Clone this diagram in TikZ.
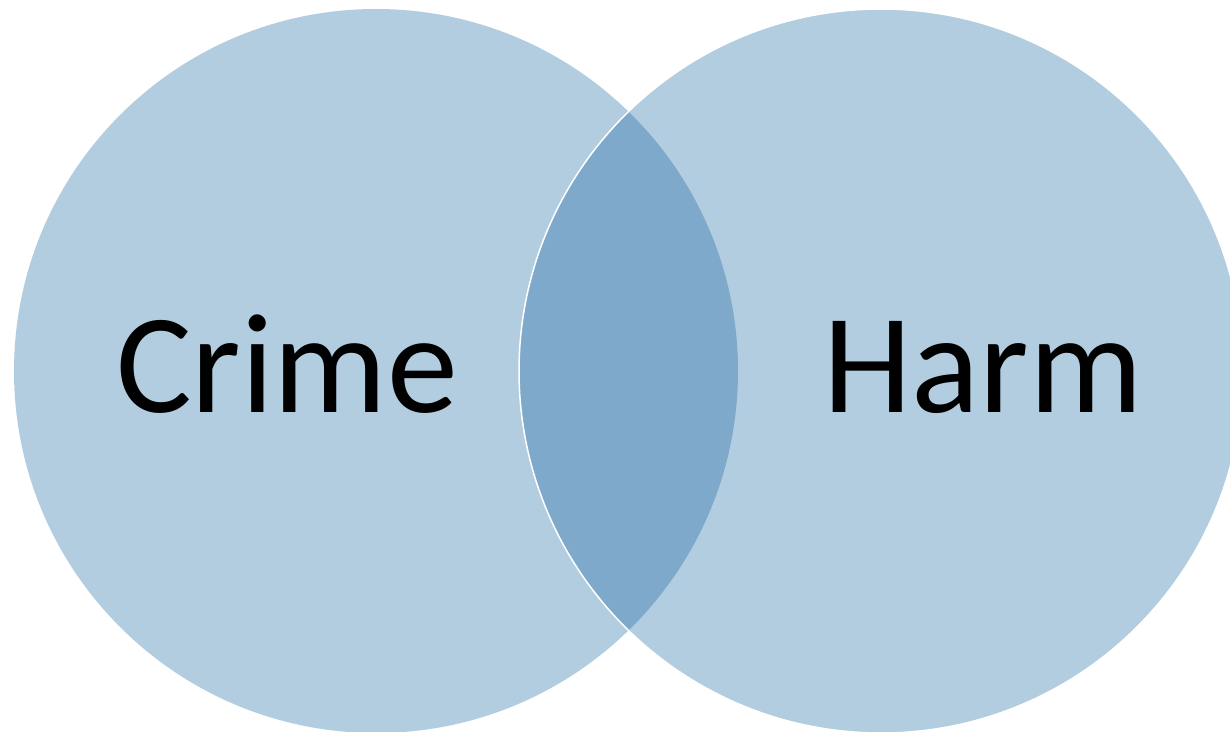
\documentclass[tikz,border=0pt]{standalone}
\usepackage{fontspec}
\setmainfont{Carlito}
\usepackage{tikz}
\definecolor{setfill}{HTML}{B2CDE0}
\definecolor{lensfill}{HTML}{7FA9CA}

\begin{document}
\begin{tikzpicture}[x=1pt, y=-1pt,
  setlabel/.style={anchor=base, inner sep=0pt, font=\fontsize{142}{170}\selectfont}]
  % Canvas
  \fill[white] (0,0) rectangle (1230,731);
  \useasboundingbox (0,0) rectangle (1230,731);

  % The two sets
  \fill[setfill] (376,371) circle (362);
  \fill[setfill] (881,371) circle (362);

  % Overlap (darker lens)
  \begin{scope}
    \clip (376,371) circle (362);
    \fill[lensfill] (881,371) circle (362);
  \end{scope}

  % Thin white rim of the right set
  \draw[white, line width=1.5pt] (881,371) circle (362);

  % Labels
  \node[setlabel] (crime) at (287,412) {Crime};
  \node[setlabel] (harm) at (983,412) {Harm};
\end{tikzpicture}
\end{document}
